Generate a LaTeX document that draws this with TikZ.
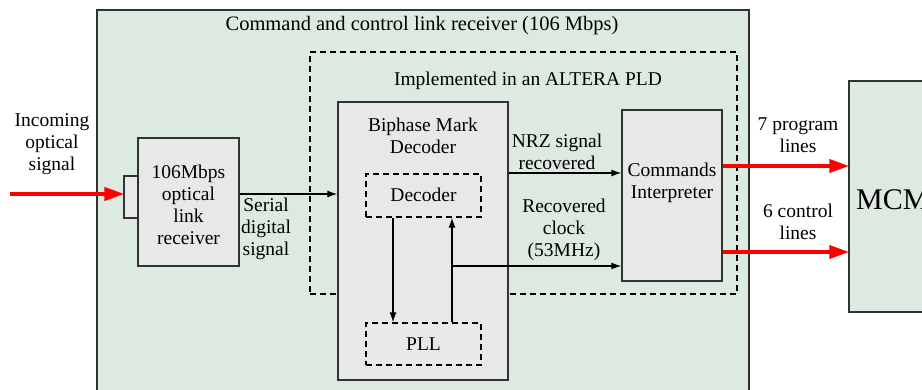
\documentclass[tikz,border=0pt]{standalone}
\usepackage{fontspec}
\setmainfont{Liberation Serif}
\usetikzlibrary{arrows.meta}
\definecolor{bggreen}{RGB}{221,234,226}
\definecolor{boxgray}{RGB}{232,232,232}
\definecolor{edge}{RGB}{50,50,50}
\tikzset{
  blk/.style={draw=edge, line width=1.3pt, fill=boxgray, rectangle, inner sep=0pt},
  dsh/.style={draw=black, line width=1.3pt, dash pattern=on 6pt off 4pt, rectangle, inner sep=0pt},
  lbl/.style={align=center, inner sep=0pt, font=\fontsize{19.5}{22}\selectfont},
  wire/.style={draw=black, line width=1.3pt, -{Latex[length=10pt,width=7pt]}},
  redw/.style={draw=red, line width=4pt, -{Triangle[length=20pt,width=13pt]}, shorten >=-1pt}
}
\begin{document}
\begin{tikzpicture}[x=1pt,y=-1pt]
\useasboundingbox (0,0) rectangle (922,389);
% outer green box
\node[draw=edge, line width=1.5pt, fill=bggreen, rectangle, inner sep=0pt,
      minimum width=652pt, minimum height=385pt] (outer) at (423,202.5) {};
% MCM box
\node[draw=edge, line width=1.5pt, fill=bggreen, rectangle, inner sep=0pt,
      minimum width=90pt, minimum height=231pt] (mcm) at (894,196.5) {};
\node[lbl, anchor=west, font=\fontsize{30}{32}\selectfont] (mcmt) at (856,200) {MCM};
% title
\node[lbl, font=\fontsize{20.5}{22}\selectfont] (title) at (422,26) {Command and control link receiver (106 Mbps)};
% PLD dashed box
\node[dsh, minimum width=427pt, minimum height=242pt] (pld) at (523.5,173) {};
\node[lbl] (pldt) at (528,81) {Implemented in an ALTERA PLD};
% biphase mark decoder
\node[blk, minimum width=170pt, minimum height=278pt] (bmd) at (423,241) {};
\node[lbl] (bmdt) at (423,136) {Biphase Mark\\Decoder};
\node[dsh, minimum width=115pt, minimum height=43pt] (dec) at (423.5,195.5) {};
\node[lbl] (dect) at (423.5,195) {Decoder};
\node[dsh, minimum width=115pt, minimum height=42pt] (pll) at (423.5,344) {};
\node[lbl] (pllt) at (423.5,344) {PLL};
% commands interpreter
\node[blk, minimum width=100pt, minimum height=171pt] (ci) at (672,195.5) {};
\node[lbl] (cit) at (672,183) {Commands\\Interpreter};
% optical receiver
\node[blk, minimum width=14pt, minimum height=42pt] (conn) at (131,197) {};
\node[blk, minimum width=101pt, minimum height=128pt] (rx) at (188.5,202) {};
\node[lbl] (rxt) at (188.5,205) {106Mbps\\optical\\link\\receiver};
% labels
\node[lbl] (inl) at (52,144) {Incoming\\optical\\signal};
\node[lbl] (serl) at (266,229) {Serial\\digital\\signal};
\node[lbl] (nrzl) at (557,152) {NRZ signal\\recovered};
\node[lbl] (clkl) at (564,230) {Recovered\\clock\\(53MHz)};
\node[lbl] (pgl) at (798,135) {7 program\\lines};
\node[lbl] (ctl) at (798,222) {6 control\\lines};
% connectors
\coordinate (in) at (10,194);
\coordinate (nrz) at (0,173);
\coordinate (clk) at (452,266);
\coordinate (p7) at (0,166);
\coordinate (c6) at (0,252);
\coordinate (dn) at (393,0);
\draw[redw] (in) -- (in -| conn.west);
\draw[wire] (rx.east |- in) -- (bmd.west |- in);
\draw[wire] (bmd.east |- nrz) -- (ci.west |- nrz);
\draw[wire] (dec.south -| dn) -- (pll.north -| dn);
\draw[wire] (pll.north -| clk) -- (dec.south -| clk);
\draw[wire] (clk) -- (ci.west |- clk);
\draw[redw] (ci.east |- p7) -- (mcm.west |- p7);
\draw[redw] (ci.east |- c6) -- (mcm.west |- c6);
\end{tikzpicture}
\end{document}
